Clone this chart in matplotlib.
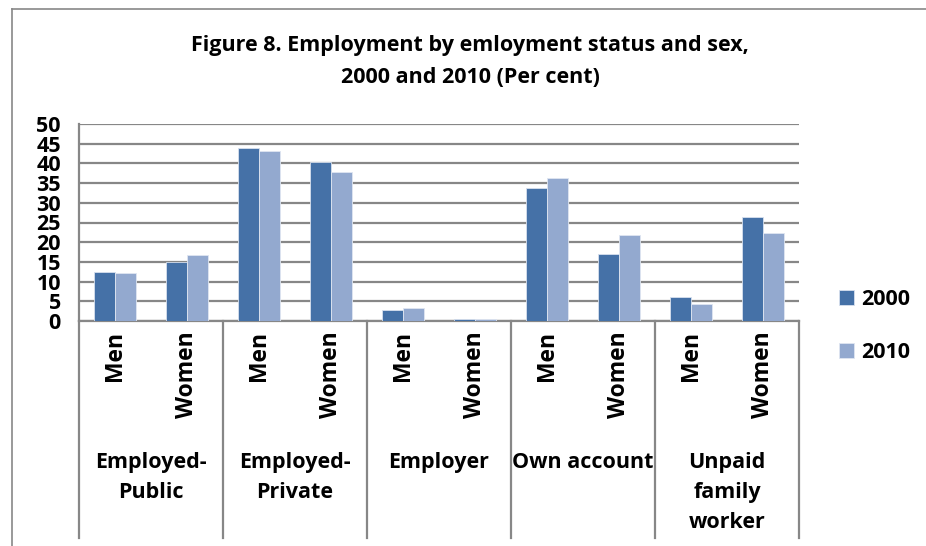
import numpy as np
import matplotlib
matplotlib.use("Agg")
from matplotlib import pyplot as plt
from matplotlib.lines import Line2D
from matplotlib.transforms import blended_transform_factory

plt.rcParams['font.family'] = ['Open Sans', 'DejaVu Sans']
plt.rcParams['font.weight'] = 'bold'

groups = ['Employed-\nPublic', 'Employed-\nPrivate', 'Employer', 'Own account', 'Unpaid\nfamily\nworker']
sexes = ['Men', 'Women']
y2000 = [12.4, 15.0, 44.0, 40.4, 2.8, 0.5, 33.7, 17.0, 6.1, 26.3]
y2010 = [12.1, 16.7, 43.1, 37.7, 3.3, 0.4, 36.3, 21.8, 4.4, 22.4]
years = ['2000', '2010']
colors = ['#4571A7', '#93A9CF']
grid_col = '#878787'
fs = 15.5

W, H = 926, 546
fig = plt.figure(figsize=(W / 100, H / 100), dpi=100)
ax = fig.add_axes([79 / W, 1 - 321 / H, 720 / W, 197 / H])

x = np.arange(len(y2000))
bw = 0.29
ax.bar(x - bw / 2, y2000, bw, color=colors[0], edgecolor='#d7e0ee', linewidth=0.6, label=years[0], zorder=3)
ax.bar(x + bw / 2, y2010, bw, color=colors[1], edgecolor='#dfe6f1', linewidth=0.6, label=years[1], zorder=3)

ax.set_xlim(-0.5, len(x) - 0.5)
ax.set_ylim(0, 50)
ax.set_yticks(range(0, 51, 5))
ax.yaxis.grid(True, color=grid_col, linewidth=1.6)
ax.set_axisbelow(True)
ax.tick_params(axis='y', length=0, pad=13, labelsize=fs)
for lbl in ax.get_yticklabels():
    lbl.set_fontweight('bold')
ax.set_xticks([])
for s in ['top', 'right']:
    ax.spines[s].set_visible(False)
for s in ['left', 'bottom']:
    ax.spines[s].set_color(grid_col)
    ax.spines[s].set_linewidth(1.6)

# two-level category axis below the plot
tr = blended_transform_factory(ax.transData, ax.transAxes)
bottom = (321 - 538) / 197
for b in np.arange(-0.5, len(x), 2):
    ax.plot([b, b], [0, bottom], color=grid_col, linewidth=1.6, transform=tr, clip_on=False)
for i in x:
    ax.text(i, -0.05, sexes[i % 2], rotation=90, ha='center', va='top',
            fontsize=16.5, fontweight='bold', transform=tr)
for g, name in enumerate(groups):
    ax.text(2 * g + 0.5, -0.665, name, ha='center', va='top', fontsize=fs,
            fontweight='bold', linespacing=1.55, transform=tr)

fig.text(470 / W, 1 - 61.5 / H, 'Figure 8. Employment by emloyment status and sex,\n2000 and 2010 (Per cent)',
         ha='center', va='center', fontsize=fs, fontweight='bold', linespacing=1.65)

fig.legend(loc='center left', bbox_to_anchor=(820 / W, 1 - 326 / H), frameon=False,
           handlelength=0.7, handleheight=0.7, handletextpad=0.3,
           labelspacing=1.45, prop={'weight': 'bold', 'size': fs})

# chart frame
fig.add_artist(Line2D([12 / W, 12 / W], [0, 1 - 9 / H], color=grid_col, linewidth=1.2))
fig.add_artist(Line2D([12 / W, 1], [1 - 9 / H, 1 - 9 / H], color=grid_col, linewidth=1.2))

fig.savefig('out.png', dpi=100)
